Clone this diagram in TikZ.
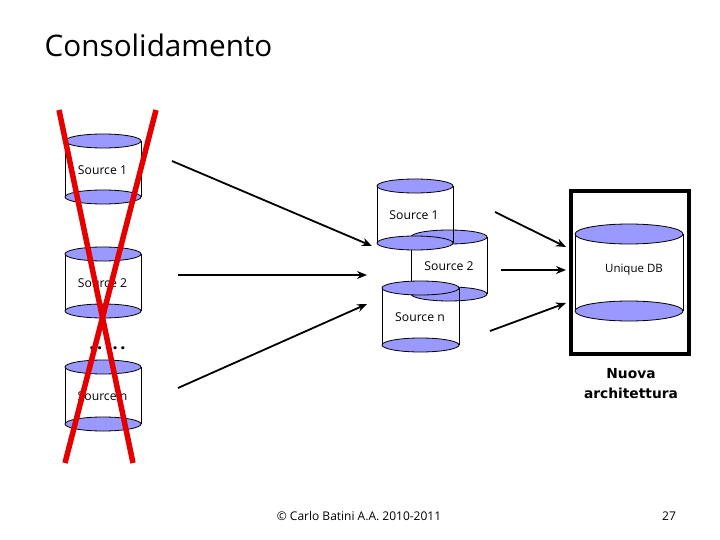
\documentclass[tikz,border=0pt]{standalone}
\usepackage{fontspec}
\setmainfont{Open Sans}
\newfontfamily\heavyfont{DejaVu Sans}
\definecolor{dbblue}{RGB}{153,153,255}
\newcommand{\dbcyl}[8]{% name cx rx top bottom ry label labelx
  \draw[cylline] (#2-#3,#4) -- (#2-#3,#5) (#2+#3,#4) -- (#2+#3,#5);
  \draw[cylline,fill=dbblue] (#2,#5) ellipse [x radius=#3,y radius=#6];
  \draw[cylline,fill=dbblue] (#2,#4) ellipse [x radius=#3,y radius=#6];
  \node[dblabel] (#1) at (#8,#4*0.5+#5*0.5+1) {#7};
}
\newcommand{\spdot}{\makebox[7.75pt]{.}}
\tikzset{
  cylline/.style={draw=black,line width=0.8pt},
  dblabel/.style={font=\fontsize{12.2}{14}\selectfont,text=black,inner sep=0pt},
  flow/.style={-{Stealth[length=10pt,width=8pt]},line width=1.8pt},
  cross/.style={draw=red!90!black,line width=5.5pt},
}
\usetikzlibrary{arrows.meta}
\begin{document}
\begin{tikzpicture}[x=1pt,y=-1pt]
\useasboundingbox (0,0) rectangle (720,540);
\fill[white] (0,0) rectangle (720,540);
\node[anchor=west,inner sep=0pt,font=\fontsize{29.7}{34}\selectfont] (title) at (44.5,45) {Consolidamento};
\dbcyl{l1}{103}{38}{141}{197}{7}{Source 1}{102.5}
\dbcyl{l2}{103}{38}{254}{311}{7}{Source 2}{102.5}
\dbcyl{l3}{103}{38}{367}{424}{7}{Source n}{102.5}
\node[anchor=base,font=\bfseries\fontsize{18}{20}\selectfont,inner sep=0pt] (dots) at (107.5,349) {\spdot\spdot\spdot\spdot\spdot};
\dbcyl{m2}{449}{38}{237}{294}{7}{Source 2}{449}
\dbcyl{m1}{415}{38}{186}{243}{7}{Source 1}{414}
\dbcyl{m3}{420.5}{38.5}{288}{345}{7}{Source n}{420}
\dbcyl{udb}{629}{54}{234}{311}{10}{}{634}
\node[dblabel,font=\fontsize{11.5}{14}\selectfont] (u) at (634,270) {Unique DB};
\node[draw=black,line width=4pt,minimum width=118pt,minimum height=163pt,inner sep=0pt] (box) at (630,272.5) {};
\node[font=\heavyfont\bfseries\fontsize{13.8}{20}\selectfont,align=center,inner sep=0pt] (nuova) at (631,384) {Nuova\\architettura};
\coordinate (a1s) at (172,161); \coordinate (a1e) at (372,246);
\coordinate (a2s) at (178,275); \coordinate (a2e) at (367,275);
\coordinate (a3s) at (178,388); \coordinate (a3e) at (367,304);
\coordinate (b1s) at (495,212); \coordinate (b1e) at (566,247);
\coordinate (b2s) at (501,270); \coordinate (b2e) at (566,270);
\coordinate (b3s) at (490,331); \coordinate (b3e) at (566,303);
\foreach \p in {a1,a2,a3,b1,b2,b3} \draw[flow] (\p s) -- (\p e);
\coordinate (x1s) at (59,110); \coordinate (x1e) at (133,463);
\coordinate (x2s) at (156,110); \coordinate (x2e) at (65,463);
\draw[cross] (x1s) -- (x1e);
\draw[cross] (x2s) -- (x2e);
\node[font=\fontsize{12}{14}\selectfont,inner sep=0pt] (foot) at (359,516) {© Carlo Batini A.A. 2010-2011};
\node[font=\fontsize{12}{14}\selectfont,inner sep=0pt] (page) at (669,516) {27};
\end{tikzpicture}
\end{document}
